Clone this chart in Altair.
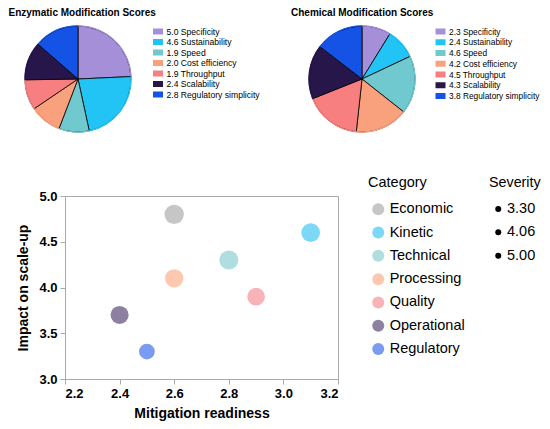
import altair as alt
import pandas as pd

# ---- pie data ----
pie_names = ["Specificity", "Sustainability", "Speed", "Cost efficiency",
             "Throughput", "Scalability", "Regulatory simplicity"]
enz_scores = [5.0, 4.6, 1.9, 2.0, 1.9, 2.4, 2.8]
chem_scores = [2.3, 2.4, 4.6, 4.2, 4.5, 4.3, 3.8]
pie_colors = ["#a58fd9", "#22c4f6", "#70c9cf", "#f9a07c", "#f77f80", "#27164a", "#1553e6"]
enz_title = "Enzymatic Modification Scores"
chem_title = "Chemical Modification Scores"

# ---- scatter data ----
categories = ["Economic", "Kinetic", "Technical", "Processing", "Quality", "Operational", "Regulatory"]
readiness = [2.6, 3.1, 2.8, 2.6, 2.9, 2.4, 2.5]
impact = [4.8, 4.6, 4.3, 4.1, 3.9, 3.7, 3.3]
severity = [5.0, 4.7, 4.8, 4.5, 4.2, 4.4, 3.3]
cat_colors = ["#c6c6c6", "#7dd7f7", "#afdde0", "#fcc9b0", "#f7b3b7", "#8d80a0", "#7b9bf0"]
severity_legend_values = ["3.30", "4.06", "5.00"]
x_ticks = [2.2, 2.4, 2.6, 2.8, 3.0, 3.2]
y_ticks = [3.0, 3.5, 4.0, 4.5, 5.0]

W, H = 273, 183
FONT = "Liberation Sans"


def pie_df(scores):
    return pd.DataFrame({
        "name": pie_names,
        "score": scores,
        "label": [f"{s:.1f} {n}" for s, n in zip(scores, pie_names)],
        "idx": list(range(len(pie_names))),
    })


def pie_layers(scores, cx, cy, lx, ly, fs):
    df = pie_df(scores)
    domain = list(df["label"])
    base = alt.Chart(df)
    legend = alt.Legend(
        orient="none", legendX=lx, legendY=ly, title=None, padding=0,
        symbolType="M-1,-0.6H1V0.6H-1Z", symbolSize=100, symbolStrokeWidth=0,
        labelFontSize=fs, labelOffset=3.5, rowPadding=8.6 + 0.5 - fs, labelColor="black",
    )
    enc = dict(
        theta=alt.Theta("score:Q", stack=True),
        order=alt.Order("idx:Q"),
        x=alt.value(cx), y=alt.value(cy),
    )
    arcs = base.mark_arc(outerRadius=53, stroke="black", strokeWidth=0.8).encode(
        color=alt.Color("label:N", sort=domain,
                        scale=alt.Scale(domain=domain, range=pie_colors), legend=legend),
        **enc)
    ring = base.mark_arc(innerRadius=52.4, outerRadius=53.7).encode(
        color=alt.Color("label:N", sort=domain,
                        scale=alt.Scale(domain=domain, range=pie_colors), legend=None),
        **enc)
    return [arcs, ring]


def title_layer(text, x, y):
    return alt.Chart(pd.DataFrame({"t": [text]})).mark_text(
        align="left", baseline="alphabetic", fontSize=10, fontWeight="bold", color="black"
    ).encode(x=alt.value(x), y=alt.value(y), text="t:N")


sc_df = pd.DataFrame({
    "category": categories, "readiness": readiness,
    "impact": impact, "severity": severity,
})

axis_common = dict(
    grid=False, tickSize=5, labelPadding=3, format=".1f",
    labelFontSize=13, labelFontWeight="bold", labelColor="black",
    titleFontSize=14, titleFontWeight="bold", titleColor="black",
    domainColor="#aaaaaa", tickColor="#aaaaaa",
)

scatter = alt.Chart(sc_df).mark_circle(opacity=1).encode(
    x=alt.X("readiness:Q", title="Mitigation readiness",
            scale=alt.Scale(domain=[2.2, 3.2], nice=False, zero=False),
            axis=alt.Axis(values=x_ticks, titlePadding=6.5, **axis_common)),
    y=alt.Y("impact:Q", title="Impact on scale-up",
            scale=alt.Scale(domain=[3.0, 5.0], nice=False, zero=False),
            axis=alt.Axis(values=y_ticks, titlePadding=8, **axis_common)),
    color=alt.Color("category:N", sort=categories,
                    scale=alt.Scale(domain=categories, range=cat_colors),
                    legend=alt.Legend(
                        orient="none", legendX=303, legendY=-20.5, title="Category",
                        padding=0, titleFontSize=14.5, titleFontWeight="normal",
                        titleColor="black", titlePadding=12,
                        labelFontSize=14.5, labelColor="black", labelOffset=4.2,
                        symbolType="circle", symbolSize=144, symbolOffset=3,
                        symbolStrokeWidth=0, symbolOpacity=1, rowPadding=8.3)),
    size=alt.Size("severity:Q",
                  scale=alt.Scale(domain=[0, 5], range=[0, 373]),
                  legend=None),
)

# legend for severity (uniform small dots, as in the reference)
sev_legend = alt.Chart(pd.DataFrame({"sev": severity_legend_values})).mark_point(
    opacity=0, filled=True, color="black"
).encode(
    x=alt.value(0), y=alt.value(0),
    shape=alt.Shape("sev:N", sort=severity_legend_values,
                    scale=alt.Scale(domain=severity_legend_values,
                                    range=["circle", "circle", "circle"]),
                    legend=alt.Legend(
                        orient="none", legendX=424, legendY=-20.5, title="Severity",
                        padding=0, titleFontSize=14.3, titleFontWeight="normal",
                        titleColor="black", titlePadding=12,
                        labelFontSize=14.5, labelColor="black", labelOffset=1.5,
                        symbolSize=36, symbolFillColor="black", symbolStrokeColor="black",
                        symbolStrokeWidth=0, symbolOpacity=1, symbolOffset=2,
                        rowPadding=8.3)),
)

layers = (pie_layers(enz_scores, 13, -117, 88, -169.5, 8.6)
          + pie_layers(chem_scores, 297, -117, 370.5, -169.5, 8.35)
          + [title_layer(enz_title, -56.5, -180.5), title_layer(chem_title, 226, -180.5),
             scatter, sev_legend])

chart = alt.layer(*layers).resolve_scale(
    color="independent", theta="independent", size="independent", shape="independent"
).properties(
    width=W, height=H,
    autosize=alt.AutoSizeParams(type="none"),
    padding={"left": 57, "top": 188, "right": 204, "bottom": 42},
    background="white",
).configure(font=FONT).configure_view(stroke="#aaaaaa", strokeWidth=1)

chart.save("out.html", embed_options={"renderer": "svg", "actions": False})
